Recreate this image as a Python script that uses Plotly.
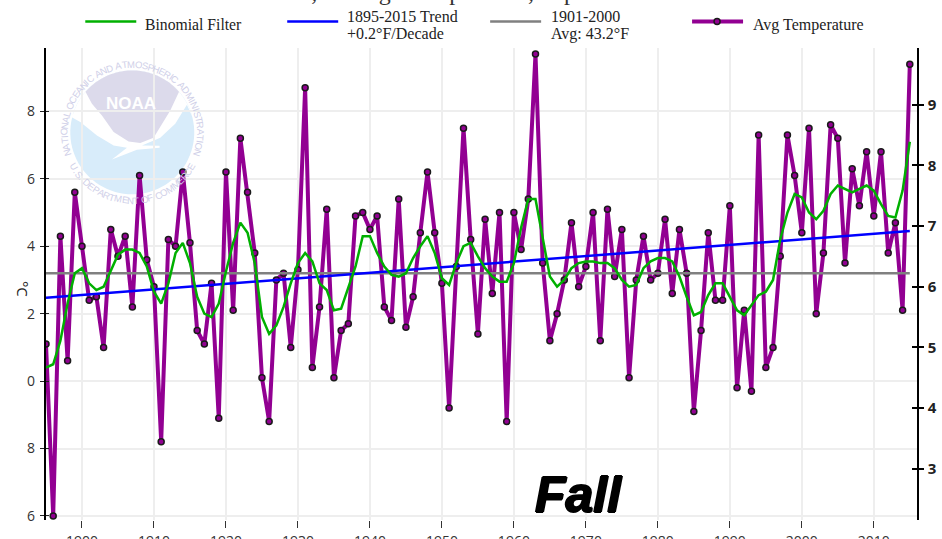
import math
import plotly.graph_objects as go

years = list(range(1895, 2016))
avg_temp = [41.1,36.0,44.3,40.6,45.6,44.0,42.4,42.5,41.0,44.5,43.7,44.3,42.2,46.1,43.6,42.8,38.2,44.2,44.0,46.2,44.1,41.5,41.1,42.9,38.9,
46.2,42.1,47.2,45.6,43.8,40.1,38.8,43.0,43.2,41.0,43.3,48.7,40.4,42.2,45.1,40.1,41.5,41.7,44.9,45.0,44.5,44.9,42.2,41.8,45.4,
41.6,42.5,44.4,46.2,44.4,42.9,39.2,43.4,47.5,44.2,41.4,44.8,42.6,45.0,38.8,45.0,43.9,45.4,49.7,43.5,41.2,42.0,43.0,44.7,42.8,
43.4,45.0,41.2,45.1,43.1,44.5,40.1,43.0,44.3,43.0,43.2,44.8,42.6,44.5,43.2,39.1,41.5,44.4,42.4,42.4,45.2,39.8,42.1,39.7,47.3,
40.4,41.0,43.7,47.3,46.1,44.4,47.5,42.0,43.8,47.6,47.2,43.5,46.3,45.2,46.8,44.9,46.8,43.8,44.7,42.1,49.4]
binomial = [40.4,40.5,41.2,42.3,43.2,43.35,42.9,42.7,42.8,43.3,43.75,43.9,43.9,43.8,43.4,42.65,42.3,42.9,43.8,44.1,43.5,42.5,42.0,41.9,42.3,
43.25,44.1,44.7,44.4,43.5,41.9,41.4,41.65,42.2,42.9,43.5,43.8,43.55,42.9,42.7,42.1,42.15,42.8,43.4,44.3,44.3,43.8,43.4,43.15,43.1,
43.2,43.65,44.0,44.3,43.8,43.05,42.85,43.5,44.0,44.1,43.7,43.35,43.1,42.95,42.95,43.5,44.55,45.4,45.4,44.2,43.1,42.8,43.0,43.35,43.5,
43.55,43.55,43.5,43.5,43.35,43.0,42.8,42.85,43.35,43.55,43.65,43.65,43.55,43.1,42.5,41.95,42.05,42.55,42.9,42.9,42.5,42.1,41.95,42.25,42.55,
42.65,43.0,44.2,45.0,45.55,45.45,45.0,44.8,45.05,45.55,45.8,45.7,45.6,45.7,45.8,45.65,45.25,44.9,44.85,45.65,47.1]
trend_years = [1895, 2015]
trend_values = [42.47, 44.45]
mean_years = [1895, 2015]
mean_values = [43.2, 43.2]
left_ticks = [36, 38, 40, 42, 44, 46, 48]
left_labels = ["6", "8", "0", "2", "4", "6", "8"]
right_ticks = [3, 4, 5, 6, 7, 8, 9]
x_ticks = list(range(1900, 2020, 10))

W, H = 942, 539
L, R, T, B = 45.7, 25, 47.5, 19
PW, PH = W - L - R, H - T - B
YMIN, YMAX = 35.88, 49.88
PURPLE, GREEN, BLUE, GREY = "#920092", "#00b000", "#0000ff", "#808080"
c = lambda f: (f - 32) * 5 / 9
px = lambda x: (x - L) / PW
py = lambda y: 1 - (y - T) / PH

fig = go.Figure()
fig.add_trace(go.Scatter(x=years, y=avg_temp, name="Avg Temperature", mode="lines+markers",
    line=dict(color=PURPLE, width=4), marker=dict(size=6, color=PURPLE, line=dict(color="#1a1a1a", width=1.5))))
fig.add_trace(go.Scatter(x=mean_years, y=mean_values, name="1901-2000 Avg: 43.2°F", mode="lines", line=dict(color=GREY, width=2.5)))
fig.add_trace(go.Scatter(x=trend_years, y=trend_values, name="1895-2015 Trend +0.2°F/Decade", mode="lines", line=dict(color=BLUE, width=2.5)))
fig.add_trace(go.Scatter(x=years, y=binomial, name="Binomial Filter", mode="lines", line=dict(color=GREEN, width=2.5)))
fig.add_trace(go.Scatter(x=trend_years, y=[c(v) for v in trend_values], yaxis="y2", mode="lines", line=dict(width=0), opacity=0, showlegend=False, hoverinfo="skip"))

# NOAA watermark, drawn in pixel coordinates of the page
def zp(points):
    return [(60 + a / 3, 60 + b / 3) for a, b in points]
def path(points):
    return "M " + " L ".join(f"{px(a):.5f},{py(b):.5f}" for a, b in points) + " Z"
cx, cy, r = 132, 132, 62
def arc(a0, a1, n=50, rad=r):
    return [(cx + rad * math.sin(math.radians(a0 + (a1 - a0) * i / n)), cy - rad * math.cos(math.radians(a0 + (a1 - a0) * i / n))) for i in range(n + 1)]
shapes = [dict(type="path", path=path(arc(0, 360, 90)), fillcolor="#d8ecfa", line_width=0, layer="below", xref="paper", yref="paper")]
white = arc(-73, 75) + zp([(380, 133), (345, 190), (300, 232), (245, 255), (298, 256), (298, 262), (230, 268), (155, 297), (200, 262), (160, 255), (110, 225), (60, 185), (30, 168)])
shapes.append(dict(type="path", path=path(white), fillcolor="#ffffff", line_width=0, layer="below", xref="paper", yref="paper"))
lav = arc(-49, 49) + zp([(330, 150), (280, 232), (240, 248), (205, 243), (160, 215), (125, 165), (95, 130)])
shapes.append(dict(type="path", path=path(lav), fillcolor="#dcdaeb", line_width=0, layer="below", xref="paper", yref="paper"))

def cw(ch):
    if ch in "IJ.,": return 0.38
    if ch == " ": return 0.4
    if ch in "MW": return 1.05
    if ch in "LFTE": return 0.72
    return 0.85
anns = []
def label(text, x, y, size, color, family, xanchor="center", angle=0, **font):
    anns.append(dict(text=text, x=px(x), y=py(y), xref="paper", yref="paper", showarrow=False, textangle=angle,
                     xanchor=xanchor, yanchor="middle", font=dict(family=family, size=size, color=color, **font)))
def ring(text, start, end, rad, bottom):
    ws = [cw(ch) for ch in text]
    total = sum(ws)
    pos = 0
    for ch, w in zip(text, ws):
        t = (pos + w / 2) / total
        pos += w
        ang = start + (end - start) * t
        x = cx + rad * math.sin(math.radians(ang))
        y = cy - rad * math.cos(math.radians(ang))
        rot = ang - 180 if bottom else ang
        if ch != " ":
            label(ch, x, y, 9.5, "#cfcfe8", "Liberation Sans", angle=rot)
ring("NATIONAL OCEANIC AND ATMOSPHERIC ADMINISTRATION", -110, 110, 68, False)
ring("U.S. DEPARTMENT OF COMMERCE", 242, 118, 68, True)
label("<b>NOAA</b>", 131, 103, 17, "#ffffff", "Liberation Sans")
label("<b><i>Fall</i></b>", 578, 495, 50, "#000000", "Liberation Sans", shadow="1px 0 0 #000, -1px 0 0 #000, 0 1px 0 #000, 0 -1px 0 #000")
label("°C", 22, 289, 15, "#222222", "Open Sans", angle=90)
label("Minnesota, Average Temperature, September-November", 480, -9, 24, "#333333", "Liberation Serif")

# legend row
SERIF = "Liberation Serif"
for x0, col, w in [(85, GREEN, 2.5), (287, BLUE, 2.5), (490, GREY, 2.5), (692, PURPLE, 4)]:
    shapes.append(dict(type="line", x0=px(x0), x1=px(x0 + 51), y0=py(21), y1=py(21), xref="paper", yref="paper", line=dict(color=col, width=w)))
shapes.append(dict(type="circle", x0=px(714), x1=px(720), y0=py(18), y1=py(24), xref="paper", yref="paper", fillcolor=PURPLE, line=dict(color="#1a1a1a", width=1.5)))
label("Binomial Filter", 143, 24, 15.7, "#222222", SERIF, xanchor="left")
label("1895-2015 Trend", 345, 16, 16, "#222222", SERIF, xanchor="left")
label("+0.2°F/Decade", 345, 33, 16, "#222222", SERIF, xanchor="left")
label("1901-2000", 549, 16, 16, "#222222", SERIF, xanchor="left")
label("Avg: 43.2°F", 549, 33, 16, "#222222", SERIF, xanchor="left")
label("Avg Temperature", 751, 24, 16, "#222222", SERIF, xanchor="left")

fig.update_layout(
    width=W, height=H, autosize=False, showlegend=False,
    margin=dict(l=L, r=R, t=T, b=B, pad=0, autoexpand=False),
    paper_bgcolor="white", plot_bgcolor="rgba(0,0,0,0)",
    shapes=shapes, annotations=anns,
    xaxis=dict(range=[1895, 2016], tickvals=x_ticks, showgrid=True, gridcolor="#eeeeee", gridwidth=1.5, zeroline=False,
               ticks="outside", ticklen=7, tickwidth=1, tickcolor="#333333", ticklabelstandoff=1, showline=False,
               tickfont=dict(family="Open Sans", size=14, color="#333333")),
    yaxis=dict(range=[YMIN, YMAX], tickvals=left_ticks, ticktext=left_labels, showgrid=True, gridcolor="#eeeeee", gridwidth=1.5, zeroline=False,
               showline=True, linecolor="#000000", linewidth=1.5, ticks="outside", ticklen=4.5, tickwidth=1.3, tickcolor="#222222",
               minor=dict(tickvals=left_ticks, ticks="inside", ticklen=3.5, tickwidth=1.3, tickcolor="#222222", showgrid=False),
               ticklabelstandoff=2, tickfont=dict(family="Open Sans", size=14, color="#333333")),
    yaxis2=dict(range=[c(YMIN), c(YMAX)], overlaying="y", side="right", tickvals=right_ticks, showgrid=False, zeroline=False,
                showline=True, linecolor="#000000", linewidth=1.5, ticks="outside", ticklen=5, tickwidth=2, tickcolor="#000000",
                minor=dict(tickvals=right_ticks, ticks="inside", ticklen=5, tickwidth=2, tickcolor="#000000", showgrid=False),
                ticklabelstandoff=1, tickfont=dict(family="Open Sans", size=15, color="#222222", weight="bold")),
)
fig.write_html("out.html", config={"displayModeBar": False},
               post_script="document.body.style.margin='0';document.body.style.overflow='hidden';")
